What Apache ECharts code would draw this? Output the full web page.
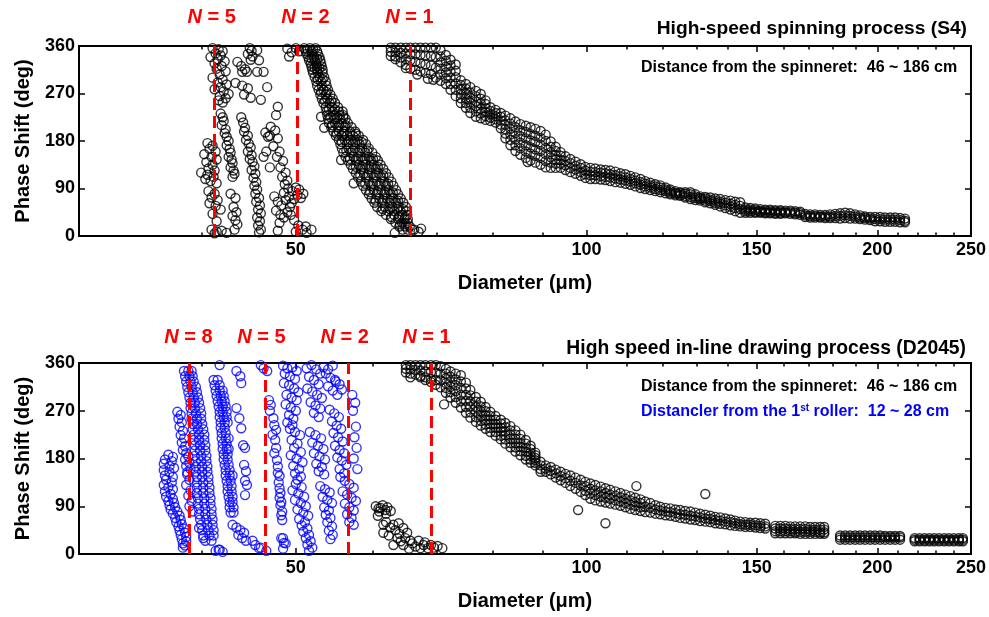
<!DOCTYPE html>
<html><head><meta charset="utf-8">
<script src="https://cdn.jsdelivr.net/npm/echarts@6/dist/echarts.min.js"></script>
<style>html,body{margin:0;padding:0;background:#fff}#c{width:989px;height:617px}</style>
</head><body><div id="c"></div>
<script>
// ---------- axis ticks ----------
const xMajorTicks = [50, 100, 150, 200, 250];
const xMinorTicks = [40, 60, 70, 80, 90, 110, 120, 130, 140, 160, 170, 180, 190, 210, 220, 230, 240];
const yTicks = [0, 90, 180, 270, 360];

// ---------- harmonic markers ----------
const s4HarmonicNames = ['5', '2', '1'];
const s4HarmonicDia = [41.2, 50.2, 65.7];
const d2045HarmonicNames = ['8', '5', '2', '1'];
const d2045HarmonicDia = [38.8, 46.5, 56.7, 69.1];

// ---------- S4 (top) : scattered clusters [diameter, phase] ----------
const s4Scatter = [
[41.0,356],[41.6,354],[42.0,350],[41.3,346],[41.8,342],[40.8,339],[41.5,335],[42.2,331],[41.2,327],[41.9,322],[41.4,317],[42.3,312],[41.7,306],[41.0,300],[42.0,296],[41.5,291],[42.4,287],[41.8,282],[41.2,278],[42.1,274],[42.6,269],[41.7,265],[42.3,261],[41.6,257],[42.0,253],
[40.5,176],[41.0,171],[40.7,165],[41.3,160],[40.2,155],[40.9,150],[41.4,145],[40.4,140],[41.0,135],[40.6,128],[41.2,124],[39.9,120],[40.5,116],[41.1,112],[40.3,108],[40.8,104],[41.4,100],
[40.6,85],[41.2,80],[40.9,73],[41.5,68],[40.7,62],[41.3,57],[41.8,50],[41.0,42],[41.4,28],
[40.9,12],[41.4,8],[41.9,10],[42.4,6],[41.2,5],
[41.8,232],[42.0,225],[42.1,218],[41.9,210],[42.3,202],[42.2,195],[42.4,188],[42.6,180],[42.4,172],[42.7,165],[42.8,158],[42.6,150],[42.9,145],[43.0,138],[42.8,130],[43.1,124],[43.2,118],[43.0,112],
[42.8,80],[43.3,72],[43.1,55],[43.4,45],[43.0,38],[43.3,30],[43.5,22],[43.2,12],
[43.9,225],[44.1,215],[44.3,205],[44.2,198],[44.6,190],[44.4,182],[44.7,175],[44.9,168],[44.6,160],[45.0,153],[44.8,146],[45.1,140],[45.3,132],[45.0,125],[45.4,118],[45.2,110],[45.5,102],[45.3,95],[45.6,88],[45.4,80],[45.8,72],[45.5,65],[45.9,58],[45.7,50],[46.0,43],[45.6,35],[45.9,28],[45.7,20],[46.0,12],[45.8,7],
[46.5,196],[46.8,188],[46.6,160],[46.3,150],[47.0,130],
[44.8,356],[45.0,351],[44.6,345],[45.1,340],[44.9,334],[43.5,330],[43.9,322],[44.3,316],[43.3,290],[44.0,285],[44.6,280],[44.2,268],[44.9,262],
[45.6,352],[45.8,333],[45.6,311],[46.3,311],[46.7,282],[46.0,258],[47.9,245],[47.7,229],[44.0,311],[44.5,311],
[47.1,207],[47.6,200],[47.0,190],[47.9,185],[47.4,170],[48.1,160],[47.8,150],[48.5,142],[48.2,130],[48.8,120],[48.4,112],[49.0,105],[48.7,98],
[47.5,75],[47.9,65],[48.3,58],[47.7,48],[48.2,40],[48.6,35],[49.0,45],[49.3,55],[49.5,62],[49.8,70],[50.2,78],[49.6,85],[50.0,92],[50.4,88],[50.6,72],[50.9,80],[49.2,75],[48.8,68],[49.4,40],[49.8,30],[50.3,20],[50.8,12],[48.1,25],[47.9,10],[50.0,8],[51.3,6],[49.1,90],[48.6,82],[51.2,18],[51.9,12],
[49.0,355],[49.5,348],[49.2,340],[50.0,356],[50.4,350],
[53.1,226],[53.5,205],[55.7,144],[57.4,100],[66.3,12],[67.0,8],[67.4,14],[63.3,6],[65.0,318],[66.8,306],[68.5,298],[69.4,296],[86.9,140]
];

// S4 N=2 branch, rows: [phase, [diameters]]
const s4LowerBranchRows = [
[356,[51.0,51.7,52.4]],[350,[51.2,51.9,52.6]],[345,[51.3,52.0,52.7]],[339,[51.5,52.2,52.9]],[333,[51.6,52.3,53.0]],[327,[51.8,52.5,53.1]],[321,[51.9,52.6,53.2]],[315,[52.0,52.6,53.3]],[309,[52.1,52.7,53.3]],[301,[52.3,52.9,53.5]],[293,[52.5,53.1,53.7]],[285,[52.6,53.2,53.8]],[277,[52.8,53.4,54.0]],[268,[53.0,53.7,54.3]],[260,[53.2,53.9,54.6]],[252,[53.4,54.2,54.9]],[244,[53.7,54.5,55.3]],[236,[53.8,54.6,55.4,55.9]],[229,[53.9,54.7,55.5,56.0]],[222,[54.0,54.8,55.6,56.3]],[214,[54.1,54.9,55.8,56.6]],[206,[54.4,55.3,56.2,57.1]],
[198,[54.7,55.4,56.1,56.9,57.6]],[190,[55.0,55.8,56.5,57.3,58.1]],[182,[55.4,56.2,57.0,57.9,58.7]],[174,[55.6,56.5,57.3,58.2,59.1]],[166,[55.8,56.7,57.6,58.6,59.5]],[158,[56.0,57.0,58.0,59.0,60.0]],[150,[56.3,57.4,58.4,59.5,60.5]],[143,[56.6,57.7,58.7,59.8,60.8]],[135,[57.0,58.1,59.1,60.2,61.2]],[127,[57.3,58.4,59.5,60.5,61.6]],[119,[57.7,58.8,59.9,60.9,62.0]],[111,[58.0,59.1,60.2,61.3,62.4]],[103,[58.4,59.5,60.6,61.7,62.8]],[95,[58.7,59.8,60.9,62.0,63.1]],[87,[59.1,60.2,61.3,62.4,63.5]],[79,[59.5,60.6,61.7,62.7,63.8]],[71,[59.9,61.0,62.1,63.1,64.2]],[63,[60.3,61.4,62.5,63.5,64.6]],[55,[60.7,61.8,62.9,63.9,65.0]],[47,[61.3,62.3,63.2,64.2,65.1]],
[40,[62.0,63.2,64.4,65.2]],[32,[62.7,63.8,64.8,65.3]],[25,[63.4,64.4,65.3]],[18,[64.0,64.9,65.6]],[12,[64.5,65.3,66.0]],
[353,[51.4,52.1]],[336,[51.9,52.6]],[318,[52.3,52.9]],[297,[52.7,53.3]],[273,[53.1,53.8]],[256,[53.6,54.4]],[240,[54.1,54.9]],[225,[54.3,55.2,56.0]],[210,[54.5,55.4,56.3]],[194,[55.1,56.0,56.9,57.7]],[178,[55.8,56.7,57.6,58.5]],[162,[56.4,57.3,58.3,59.3]],[146,[56.9,58.0,59.0,60.1]],[131,[57.7,58.7,59.8,60.8]],[115,[58.3,59.4,60.5,61.6]],[99,[59.0,60.1,61.2,62.3]],[83,[59.7,60.8,61.9,63.0]],[67,[60.5,61.6,62.7,63.8]],[51,[61.5,62.6,63.7,64.6]],[36,[62.8,63.9,64.9]],[22,[64.1,65.0]]
];

// S4 N=1 branch, columns: [diameter, [phases]]
const s4UpperBranchCols = [
[62.7,[357,349,341]],[63.4,[357,348,340,335]],[64.2,[357,347,338,329]],[65.0,[357,346,335,324]],[65.7,[357,345,333,317]],[66.5,[357,344,330,315]],[67.3,[357,343,327,312]],[68.1,[357,342,325,309]],[69.0,[357,341,323,307]],[69.8,[357,339,319,300]],
[70.6,[352,340,329,317,306,294]],[71.5,[343,332,321,310,299,288]],[72.3,[334,323,311,300,288,277]],[73.2,[325,313,301,289,277,265]],[74.1,[295,286,278,269,261,252]],[75.0,[288,279,270,261,252,243]],[75.8,[282,272,262,253,243,233]],[76.8,[275,265,255,246,236,226]],[77.7,[269,260,251,241,232,223]],[78.6,[257,250,242,235,227,220]],[79.5,[244,237,231,224,218]],[80.5,[239,233,227,221,215]],[81.5,[233,226,219,211,204]],[82.4,[228,219,211,202,194,185]],[83.4,[223,213,203,192,182,172]],[84.4,[217,206,195,183,172,161]],[85.4,[212,200,189,177,166,154]],[86.5,[209,197,185,172,160,148]],[87.5,[206,193,181,168,156,143]],[88.5,[203,190,178,164,152,139]],[89.6,[199,186,173,161,148,135]],[90.7,[192,180,167,155,142,130]],[91.8,[179,169,159,149,139,129]],[92.9,[169,161,153,145,137,129]],[94.0,[159,152,144,137,129]],
[95.1,[151,142,134,125]],[96.2,[146,138,129,121]],[97.4,[141,133,126,118]],[98.6,[136,129,121,114]],[99.7,[131,124,117,110]],[100.9,[129,122,115,108]],[102.1,[128,121,115,108]],[103.4,[126,120,113,107]],[104.6,[125,119,112,106]],[105.8,[124,117,111,104]],[107.1,[122,115,109,102]],[108.4,[119,113,107,101]],[109.7,[117,111,105,99]],[111.0,[114,108,103,97]],[112.3,[111,105,100,94]],[113.7,[108,102,97,91]],[115.0,[104,99,94,89]],[116.4,[101,96,92,87]],[117.8,[98,94,89,85]],[119.2,[96,92,87,83]],[120.7,[92,88,85,81]],[122.1,[88,85,82,79]],[123.6,[85,82,80,77]],[125.0,[83,81,78,76]],[126.5,[83,80,76,73]],[128.1,[83,79,74,70]],[129.6,[79,75,72,68]],[131.1,[75,72,70,67]],[132.7,[74,71,67,64]],[134.3,[73,69,66,62]],[135.9,[71,67,63,59]],[137.5,[70,65,61,56]],[139.2,[68,63,58,53]],[140.9,[67,61,56,50]],[142.5,[65,59,53,47]],[144.2,[64,57,51,44]],[146.0,[54,50,47,44]],[147.7,[53,50,47,44]],[149.5,[52,49,46,44]],[151.3,[51,48,46,44]],[153.1,[50,48,45,43]],[154.9,[50,48,45,43]],[156.8,[49,47,44,42]],[158.7,[49,47,44,42]],[160.6,[48,45,43]],[162.5,[48,45,42]],[164.4,[47,44,41]],[166.4,[46,43,40]],[168.4,[42,39,36]],[170.4,[41,38,35]],[172.4,[41,38,35]],[174.5,[40,37,35]],[176.6,[40,37,34]],[178.7,[41,37,34]],[180.9,[42,38,34]],[183.0,[43,38,33]],[185.2,[44,39,34]],[187.4,[43,38,33]],[189.7,[41,37,33]],[191.9,[39,35,32]],[194.2,[37,34,31]],[196.6,[36,33,30]],[198.9,[36,32,28]],[201.3,[36,32,28]],[203.7,[35,31,27]],[206.2,[35,31,27]],[208.6,[35,31,27]],[211.1,[34,30,26]],[213.6,[33,29,26]]
];

// ---------- D2045 (bottom) black ----------
const d2045BranchCols = [
[65.0,[356,349,342]],[65.7,[356,348,340,333]],[66.5,[356,347,338]],[67.3,[356,346,336,333]],[68.1,[356,344,333,328]],[69.0,[356,343,330,324]],[69.8,[356,342,328,319]],[70.6,[354,340,327,314]],
[71.5,[349,340,331,322,313,304]],[72.3,[344,334,324,315,305,295]],[73.2,[340,329,318,307,296,285]],[74.1,[337,325,313,300,288,276]],[75.0,[323,312,300,289,277,266]],[75.8,[309,299,288,278,267,257]],[76.8,[296,287,277,268,258,249]],[77.7,[287,278,269,260,251,242]],[78.6,[277,269,261,252,244,236]],[79.5,[268,260,253,245,238,230]],[80.5,[260,253,245,238,230,223]],[81.5,[253,246,238,231,223,216]],[82.4,[247,239,231,224,216,208]],[83.4,[241,233,225,217,209,201]],[84.4,[233,225,217,209,201,193]],[85.4,[225,217,209,202,194,186]],[86.5,[215,208,200,193,185,178]],[87.5,[204,198,191,185,178,172]],[88.5,[191,186,181,177,172,167]],
[89.6,[174,167,160,155]],[90.7,[167,161,155]],[91.8,[164,157,150]],[92.9,[159,152,144]],[94.0,[155,147,139]],[95.1,[151,143,134]],[96.2,[148,138,128]],[97.4,[144,134,123]],[98.6,[140,129,117]],
[99.7,[136,128,119,111]],[100.9,[133,123,114,104]],[102.1,[130,120,111,101]],[103.4,[127,118,108,99]],[104.6,[124,115,106,97]],[105.8,[121,112,104,95]],[107.1,[118,110,101,93]],[108.4,[115,107,99,91]],[109.7,[112,104,96,88]],[111.0,[109,101,93,85]],[112.3,[106,98,91,83]],[113.7,[103,96,88,81]],
[115.0,[99,89,79]],[116.4,[96,87,78]],[117.8,[92,84,76]],[119.2,[89,82,75]],[120.7,[87,80,73]],[122.1,[86,79,72]],[123.6,[84,77,70]],[125.0,[83,75,68]],[126.5,[81,74,67]],[128.1,[80,72,65]],[129.6,[78,71,64]],[131.1,[76,69,62]],[132.7,[74,67,61]],[134.3,[72,66,60]],[135.9,[70,64,58]],[137.5,[69,63,57]],[139.2,[67,61,56]],[140.9,[65,60,54]],[142.5,[63,58,53]],[144.2,[61,56,52]],[146.0,[60,55,51]],[147.7,[59,55,51]],[149.5,[59,54,50]],[151.3,[58,53,49]],[153.1,[57,52,48]],
[156.8,[53,48,43,39]],[158.7,[53,48,43,39]],[160.6,[53,48,43,39]],[162.5,[52,47,43,39]],[164.4,[52,47,42,39]],[166.4,[52,47,42,38]],[168.4,[52,47,42,38]],[170.4,[51,46,42,38]],[172.4,[51,46,42,38]],[174.5,[51,46,41,38]],[176.2,[51,46,41,38]],
[183.0,[35,31,27]],[185.2,[35,31,27]],[187.4,[35,31,27]],[189.7,[35,31,27]],[191.9,[35,31,27]],[194.2,[35,31,27]],[196.6,[35,31,27]],[198.9,[35,31,27]],[201.3,[35,31,27]],[203.7,[34,31,27]],[206.2,[34,31,27]],[208.6,[34,31,27]],[211.1,[34,31,27]],
[218.6,[30,27,24]],[221.2,[30,27,24]],[223.8,[30,27,24]],[226.4,[30,27,24]],[229.0,[30,27,24]],[231.7,[30,27,24]],[234.5,[30,27,24]],[237.2,[30,27,24]],[240.0,[30,27,24]],[242.9,[30,27,24]],[245.2,[30,27,24]]
];
const d2045BlackScatter = [
[60.5,90],[61.2,87],[61.9,83],[62.7,81],[60.8,72],[61.6,55],[61.6,40],[63.1,55],[63.9,58],[64.6,49],[65.2,40],[63.7,30],[63.1,17],[64.6,17],[65.7,25],[67.0,25],[67.8,17],[69.0,17],[70.1,15],[70.9,11],[67.3,11],[68.5,11],
[60.9,86],[61.5,92],[62.2,88],[61.0,80],[62.0,76],[62.0,60],[62.6,50],[63.4,45],[64.0,38],[62.4,35],[64.9,30],[66.0,20],[66.5,14],[68.0,22],[69.5,12],[65.5,10],[64.2,24],
[71.2,282],[98.0,83],[104.6,58],[112.6,128],[132.7,113]
];

// ---------- D2045 (bottom) blue ----------
const d2045BlueScatter = [
[36.9,187],[37.3,183],[36.6,178],[37.2,175],[36.5,170],[37.0,166],[37.4,162],[36.5,158],[37.0,154],[36.6,148],[37.3,145],[36.7,140],[37.2,135],[36.5,130],[36.9,126],[37.3,122],[36.6,118],[37.1,113],[36.7,108],[37.3,104],[36.9,100],[37.4,96],[37.0,92],[37.5,88],[37.1,84],[37.7,80],[37.3,76],[37.9,72],[37.5,68],[38.0,64],[37.6,60],[38.1,56],[37.8,52],[38.3,48],[37.9,44],[38.4,40],[38.0,36],[38.5,32],[38.1,28],[38.5,24],[38.2,20],[38.4,16],[38.2,12],
[37.7,268],[38.0,262],[37.8,255],[38.1,248],[37.9,240],[38.2,232],[38.0,224],[38.3,218],[38.1,210],[38.4,203],[38.2,196],[38.5,190],[38.7,184],[38.4,178],[38.8,172],[38.5,166],[38.9,160],[38.6,154],
[38.6,150],[38.8,140],[38.5,130],[38.9,120],[38.7,110],[39.0,100],[38.8,90],[39.1,80],
[39.7,49],[40.1,30],[41.3,6],[41.6,8],
[43.4,345],[43.8,335],[43.9,322],[43.4,275],[43.7,256],[43.9,237],[44.1,205],[44.3,200],[44.2,168],[44.4,156],[44.3,138],[44.5,130],[44.3,111],[45.1,25],[45.4,17],[45.8,11],[43.0,55],[43.4,50],[43.8,45],[44.2,40],[43.6,36],[44.0,30],[44.4,25],[41.7,8],[42.0,4],[46.0,12],[46.6,6],[41.7,356],[46.0,356],[46.3,350],[46.7,345],
[46.9,290],[47.1,281],[47.4,256],[47.5,243],[47.7,234],[47.6,215],[47.8,177],[47.9,153],[48.1,147],[48.1,124],[48.1,106],[48.2,92],[48.3,73],[48.4,64],[48.5,30],[48.6,21],
[47.0,270],[47.3,225],[47.7,200],[47.5,190],[47.9,165],[48.0,135],[48.2,115],[48.3,98],[48.4,80],
[48.5,355],[49.0,350],[49.6,352],[50.1,345],[48.7,340],[49.3,335],[49.9,330],[48.6,322],[49.2,318],[49.8,312],[50.3,305],[48.9,300],[49.5,295],[50.1,290],[48.8,282],[49.4,276],[50.0,270],[49.2,262],[49.7,255],[49.0,248],[49.6,243],
[49.3,236],[49.9,230],[50.5,224],[49.5,215],[50.2,208],[49.8,200],[50.6,192],[49.4,186],[50.1,180],[50.8,173],[49.7,166],[50.4,160],[49.9,152],[50.6,146],[50.2,140],
[50.0,132],[50.7,126],[49.6,120],[50.3,114],[51.0,108],[49.9,102],[50.6,96],[51.2,90],[50.2,84],[50.9,78],[51.5,72],[50.4,66],[51.1,60],[50.7,54],[51.4,48],[50.9,42],[51.6,36],[51.2,30],[51.8,24],[51.4,18],[52.0,12],[51.6,6],
[48.3,30],[48.8,20],[48.5,10],
[51.3,350],[51.9,356],[52.5,348],[53.0,340],[51.6,334],[52.2,328],[52.8,320],[51.4,312],[52.0,306],[52.6,300],[53.2,294],[51.8,286],[52.4,280],[53.0,274],[52.2,266],[52.8,258],
[51.7,230],[52.4,224],[53.1,218],[52.0,210],[52.7,204],[53.4,198],[52.2,190],[52.9,184],[53.6,178],[52.5,170],[53.2,164],[52.8,156],[53.5,150],
[53.0,128],[53.6,122],[54.2,116],[53.3,108],[53.9,102],[54.5,96],[53.5,88],[54.1,82],[53.7,74],[54.3,68],[53.9,60],[54.5,52],[54.1,44],[54.6,36],[54.3,28],
[53.4,352],[54.0,348],[54.6,355],[53.7,340],[54.3,332],[55.0,325],[54.0,316],[54.6,308],[55.2,300],
[54.2,272],[54.8,265],[55.4,258],[54.5,250],[55.1,242],[55.7,236],[54.7,228],[55.3,220],[55.9,212],[54.9,204],[55.5,196],[56.1,190],[55.2,182],[55.8,176],[56.4,168],[55.5,160],[56.1,152],
[55.6,145],[56.2,138],[56.8,132],[57.4,125],[55.9,118],[56.5,112],[57.1,106],[57.7,100],[56.2,95],[56.8,88],[57.4,82],[56.5,75],[57.1,68],[56.8,60],[57.4,55],
[57.2,300],[57.6,285],[57.3,270],[57.7,240],[57.5,220],[57.8,200],[57.4,180],[57.9,160],[54.9,328],[55.5,320],[55.8,310]
];
const d2045BlueRowsN8 = [
[345,[38.3,38.7,39.0]],[335,[38.4,38.8,39.1]],[325,[38.5,38.9,39.2]],[315,[38.6,39.0,39.4]],[305,[38.7,39.1,39.5]],[295,[38.8,39.2,39.6]],[285,[38.9,39.3,39.7]],[275,[38.9,39.3,39.8]],[265,[39.0,39.4,39.9]],[255,[39.0,39.5,39.9]],[245,[39.1,39.5,40.0]],[235,[39.1,39.6,40.1]],[225,[39.2,39.7,40.2]],[215,[39.2,39.7,40.2]],[205,[39.3,39.8,40.3]],[195,[39.3,39.8,40.3]],[185,[39.3,39.9,40.4]],[175,[39.4,39.9,40.4]],[165,[39.4,40.0,40.5]],[155,[39.4,40.0,40.5]],[145,[39.5,40.0,40.6]],[135,[39.5,40.1,40.6]],[125,[39.5,40.1,40.7]],[115,[39.5,40.1,40.7]],[105,[39.6,40.2,40.8]],[95,[39.6,40.2,40.8]],[85,[39.7,40.3,40.9]],[75,[39.7,40.3,40.9]],[65,[39.8,40.4,41.0]],[55,[39.9,40.5,41.0]],[45,[40.0,40.6,41.1]],[35,[40.1,40.7,41.1]],[25,[40.3,40.9]]
];
const d2045BlueRowsH = [
[328,[41.1,41.5]],[318,[41.2,41.7]],[308,[41.3,41.7,42.0]],[298,[41.4,41.8,42.1]],[288,[41.5,41.9,42.2]],[278,[41.6,42.0,42.3]],[268,[41.7,42.0,42.4]],[258,[41.7,42.1,42.4]],[248,[41.8,42.2,42.5]],[238,[41.8,42.2]],[228,[41.9,42.3]],[218,[41.9,42.3,42.6]],[208,[42.0,42.4]],[198,[42.0,42.4,42.6]],[188,[42.1,42.5]],[178,[42.1,42.5]],[168,[42.2,42.6]],[158,[42.3,42.7]],[148,[42.3,42.7,43.0]],[138,[42.4,42.8]],[128,[42.5,42.9]],[118,[42.5,42.9]],[108,[42.6,43.0]],[98,[42.7,43.0]],[88,[42.7,43.1]],[78,[42.8,43.1]]
];

// ---------- helpers ----------
function fromCols(cols){const o=[];cols.forEach(c=>c[1].forEach(p=>o.push([c[0],p])));return o;}
function fromRows(rows){const o=[];rows.forEach(r=>r[1].forEach(d=>o.push([d,r[0]])));return o;}

const FONT = '"Liberation Sans", Arial, sans-serif';
const X_MIN = 29.82, X_MAX = 250;

function xAxes(gridIndex){
  const base = {type:'log', logBase:10, min:X_MIN, max:X_MAX, gridIndex, splitLine:{show:false}, axisLine:{show:false}};
  return [
    Object.assign({}, base, {position:'bottom',
      axisTick:{inside:true, length:6, customValues:xMajorTicks, lineStyle:{color:'#000', width:1.5}},
      axisLabel:{customValues:xMajorTicks, margin:5, color:'#000', fontSize:18, fontWeight:'bold', fontFamily:FONT},
      name:'Diameter (\u03bcm)', nameLocation:'middle', nameGap:37,
      nameTextStyle:{color:'#000', fontSize:20, fontWeight:'bold', fontFamily:FONT}}),
    Object.assign({}, base, {position:'bottom',
      axisTick:{inside:true, length:3.5, customValues:xMinorTicks, lineStyle:{color:'#000', width:1.5}},
      axisLabel:{show:false}}),
    Object.assign({}, base, {position:'top',
      axisTick:{inside:true, length:6, customValues:xMajorTicks, lineStyle:{color:'#000', width:1.5}},
      axisLabel:{show:false}}),
    Object.assign({}, base, {position:'top',
      axisTick:{inside:true, length:3.5, customValues:xMinorTicks, lineStyle:{color:'#000', width:1.5}},
      axisLabel:{show:false}})
  ];
}
function yAxes(gridIndex){
  const base = {type:'value', min:yTicks[0], max:yTicks[yTicks.length-1], interval:90, gridIndex,
    splitLine:{show:false}, axisLine:{show:false}};
  return [
    Object.assign({}, base, {position:'left',
      axisTick:{inside:true, length:6, lineStyle:{color:'#000', width:1.5}},
      axisLabel:{margin:4, color:'#000', fontSize:18, fontWeight:'bold', fontFamily:FONT},
      name:'Phase Shift (deg)', nameLocation:'middle', nameGap:46, nameRotate:90,
      nameTextStyle:{color:'#000', fontSize:20, fontWeight:'bold', fontFamily:FONT}}),
    Object.assign({}, base, {position:'right',
      axisTick:{inside:true, length:6, lineStyle:{color:'#000', width:1.5}},
      axisLabel:{show:false}})
  ];
}

const richN = {
  n:{fontStyle:'italic', fontWeight:'bold', fontSize:20, color:'#ff0000', fontFamily:FONT},
  t:{fontWeight:'bold', fontSize:20, color:'#ff0000', fontFamily:FONT}
};
function nLines(names, dias, dist, shifts){
  return {
    silent:true, symbol:['none','none'], animation:false,
    lineStyle:{color:'#ff0000', width:3, type:[12,6]},
    label:{show:true, position:'end', distance:dist,
      formatter:p=>'{n|N}{t| = '+p.name+'}', rich:richN},
    emphasis:{disabled:true},
    data:dias.map((d,i)=>({xAxis:d, name:names[i], label:{offset:[shifts[i],0]}}))
  };
}

const circleStyle = c => ({color:'rgba(0,0,0,0)', borderColor:c, borderWidth:1.4});

const option = {
  animation:false,
  backgroundColor:'#fff',
  title:[
    {text:'High-speed spinning process (S4)', right:22, top:19, padding:0,
     textStyle:{fontSize:19.2, fontWeight:'bold', color:'#000', fontFamily:FONT}},
    {text:'Distance from the spinneret:  46 ~ 186 cm', left:641, top:60, padding:0,
     textStyle:{fontSize:16, fontWeight:'bold', color:'#000', fontFamily:FONT}},
    {text:'High speed in-line drawing process (D2045)', right:23, top:339, padding:0,
     textStyle:{fontSize:19.3, fontWeight:'bold', color:'#000', fontFamily:FONT}},
    {text:'Distance from the spinneret:  46 ~ 186 cm', left:641, top:379, padding:0,
     textStyle:{fontSize:16, fontWeight:'bold', color:'#000', fontFamily:FONT}},
    {text:'Distancler from the 1{s|st} roller:  12 ~ 28 cm', left:641, top:403, padding:0,
     textStyle:{fontSize:16, fontWeight:'bold', color:'#0000ff', fontFamily:FONT,
       rich:{s:{fontSize:10, fontWeight:'bold', color:'#0000ff', fontFamily:FONT, verticalAlign:'top', padding:[0,0,8,0]}}}}
  ],
  grid:[
    {left:79, top:46, width:893, height:190, show:true, borderColor:'#000', borderWidth:2, backgroundColor:'transparent'},
    {left:79, top:363, width:893, height:191, show:true, borderColor:'#000', borderWidth:2, backgroundColor:'transparent'}
  ],
  xAxis:[...xAxes(0), ...xAxes(1)],
  yAxis:[...yAxes(0), ...yAxes(1)],
  series:[
    {type:'scatter', name:'S4', xAxisIndex:0, yAxisIndex:0, symbol:'circle', symbolSize:9,
     itemStyle:circleStyle('#000'), emphasis:{disabled:true},
     data:[...s4Scatter, ...fromRows(s4LowerBranchRows), ...fromCols(s4UpperBranchCols)],
     markLine:nLines(s4HarmonicNames, s4HarmonicDia, 19, [-3, 8, -1])},
    {type:'scatter', name:'D2045', xAxisIndex:4, yAxisIndex:2, symbol:'circle', symbolSize:9,
     itemStyle:circleStyle('#000'), emphasis:{disabled:true},
     data:[...fromCols(d2045BranchCols), ...d2045BlackScatter]},
    {type:'scatter', name:'D2045 roller', xAxisIndex:4, yAxisIndex:2, symbol:'circle', symbolSize:9,
     itemStyle:circleStyle('#0000ff'), emphasis:{disabled:true},
     data:[...d2045BlueScatter, ...fromRows(d2045BlueRowsN8), ...fromRows(d2045BlueRowsH)],
     markLine:nLines(d2045HarmonicNames, d2045HarmonicDia, 16, [-1, -4, -4, -5])}
  ]
};
const chart = echarts.init(document.getElementById('c'), null, {renderer:'canvas'});
chart.setOption(option);
</script>
</body></html>
